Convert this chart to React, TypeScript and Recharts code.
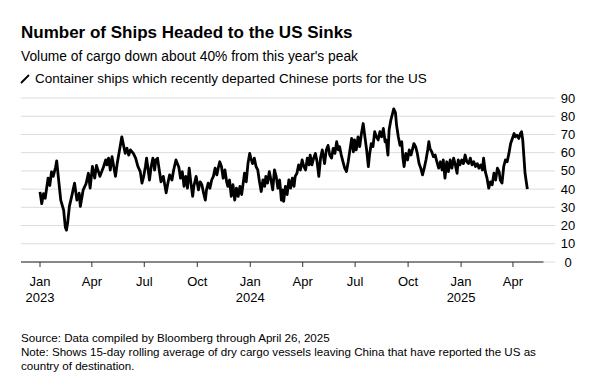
import React from 'react';
import { LineChart, Line, XAxis, YAxis, CartesianGrid, ReferenceLine } from 'recharts';

// days since Jan 1, 2023 and the 15-day rolling count of ships
const days = [
  0, 3, 6, 9, 14, 17, 20, 23, 27, 29, 32, 36, 41, 44, 46, 48, 51, 55, 60, 64,
  68, 70, 75, 80, 84, 87, 91, 95, 98, 104, 110, 114, 116, 119, 122, 125, 128, 131, 134, 137,
  140, 142, 145, 148, 151, 154, 157, 162, 166, 170, 174, 177, 180, 183, 185, 187, 190, 193, 196, 199,
  201, 204, 207, 210, 214, 216, 219, 222, 225, 229, 232, 236, 241, 244, 247, 250, 253, 256, 259, 262,
  265, 267, 271, 275, 278, 281, 284, 287, 289, 292, 295, 298, 301, 304, 307, 310, 312, 315, 318, 321,
  324, 326, 329, 332, 335, 338, 341, 344, 347, 350, 353, 355, 358, 361, 364, 366, 369, 372, 375, 378,
  381, 384, 387, 390, 392, 395, 398, 401, 404, 407, 410, 413, 416, 419, 421, 423, 426, 429, 432, 435,
  438, 441, 443, 446, 449, 452, 455, 458, 461, 464, 467, 469, 472, 475, 478, 481, 484, 487, 490, 494,
  497, 500, 503, 506, 509, 512, 515, 518, 520, 523, 526, 529, 532, 535, 538, 541, 544, 546, 549, 552,
  555, 558, 561, 564, 567, 570, 572, 575, 578, 581, 584, 587, 590, 593, 596, 599, 601, 604, 606, 609,
  612, 614, 617, 619, 622, 625, 628, 630, 632, 635, 638, 641, 644, 647, 649, 652, 655, 658, 661, 664,
  667, 670, 673, 675, 677, 680, 683, 686, 689, 692, 695, 698, 700, 703, 706, 709, 712, 715, 718, 721,
  724, 726, 729, 732, 735, 738, 741, 744, 747, 750, 753, 756, 759, 762, 765, 768, 770, 773, 776, 779,
  782, 785, 788, 791, 794, 797, 799, 802, 805, 808, 811, 814, 817, 820, 823, 825, 828, 831, 834, 836,
  838, 840, 842, 846,
];

const ships = [
  38.5, 32, 37.5, 35, 46, 42, 49.5, 47, 52, 55.5, 46, 34, 28.5, 19, 17.5, 21.5, 30.5, 36, 43.3, 34,
  37.8, 30.5, 39.6, 43, 48.7, 40.5, 52.4, 46, 53, 47, 52, 56, 53.3, 57, 50.5, 57.8, 52.4, 47, 54, 59.6,
  65, 68.7, 64, 59.6, 62.4, 58.7, 61.5, 59.6, 57, 52.4, 49.6, 43.3, 47, 52.4, 57, 52.4, 45, 52.4, 57, 50.5,
  56, 57, 50.5, 44, 47, 43.3, 38, 43.3, 47.8, 45, 50.5, 56, 52, 46, 49.6, 41.5, 47, 40.5, 51.5, 43.3,
  36, 41.5, 47, 39.6, 44, 42.4, 37.8, 34, 39.6, 43.3, 40.5, 45, 47, 51.5, 47.8, 52.4, 55, 52.4, 46, 50.5,
  44, 41.5, 45, 36, 42.4, 34, 40.5, 36, 41.5, 37, 44, 48.7, 44, 54, 59.6, 57, 54, 57, 52.4, 50.5,
  44, 38.7, 45, 41.5, 47, 43.3, 49.6, 45, 39.6, 50.5, 47, 40.5, 45, 34, 39.6, 33.3, 41.5, 37, 45, 40.5,
  46, 41.5, 47, 48.7, 53.3, 50.5, 56, 52.4, 50.5, 57, 53.3, 58.7, 53.3, 57, 59.6, 55, 47, 57, 61.5, 54,
  61.5, 64, 58.7, 57, 62.4, 59.6, 66, 61.5, 63.3, 58.7, 55, 51.5, 49.6, 55, 61.5, 67.8, 60.5, 67, 61.5, 68.7,
  63.3, 70.5, 76, 68.7, 61.5, 52.4, 58.7, 65, 63.3, 71.5, 68.7, 67, 71.5, 68.7, 73.3, 66, 67, 58.7, 72.4, 77.8,
  81.5, 84, 82, 75, 68.7, 64, 66, 57, 52.4, 59.6, 56, 61.5, 58.7, 62.4, 65, 63.3, 59.6, 54, 51.5, 47.8,
  51.5, 56, 61.5, 66, 62.4, 60.5, 57.8, 58.7, 55, 51.5, 55, 50.5, 56, 46, 55, 49.6, 56, 51.5, 57, 53.3,
  48.7, 56, 53.3, 56, 54, 58.7, 55, 54, 57, 53.3, 55, 52.4, 54, 51.5, 53.3, 50.5, 57, 49.6, 46, 40.5,
  44, 42.4, 48.7, 45, 51.5, 49.6, 45, 43.3, 52.4, 56, 55, 59.6, 65, 67.8, 70.5, 68.7, 69.6, 67.8, 70.5, 71.5,
  67, 57.8, 48.7, 40,
];

const tickDays = [0, 90, 181, 273, 365, 456, 547, 639, 731, 821];
const tickMonths = ['Jan', 'Apr', 'Jul', 'Oct', 'Jan', 'Apr', 'Jul', 'Oct', 'Jan', 'Apr'];
const tickYears = ['2023', '', '', '', '2024', '', '', '', '2025', ''];
const valueTicks = [0, 10, 20, 30, 40, 50, 60, 70, 80, 90];

const data = days.map((day, i) => ({ day, ships: ships[i] }));

const font = '"Liberation Sans", Arial, Helvetica, sans-serif';

const MonthTick = (props: any) => {
  const { x, y, payload } = props;
  const i = tickDays.indexOf(payload.value);
  return (
    <g>
      <text x={x} y={y + 19} textAnchor="middle" fontSize={13} fill="#000" fontFamily={font}>
        {tickMonths[i]}
      </text>
      {tickYears[i] && (
        <text x={x} y={y + 35} textAnchor="middle" fontSize={13} fill="#000" fontFamily={font}>
          {tickYears[i]}
        </text>
      )}
    </g>
  );
};

const ValueTick = (props: any) => {
  const { x, y, payload } = props;
  return (
    <text x={x} y={y + 4.5} textAnchor="middle" fontSize={13} fill="#000" fontFamily={font}>
      {payload.value}
    </text>
  );
};

export default function App() {
  return (
    <div
      style={{
        position: 'absolute',
        left: 0,
        top: 0,
        width: 603,
        height: 388,
        background: '#fff',
        fontFamily: font,
        color: '#000',
        overflow: 'hidden',
      }}
    >
      <div style={{ position: 'absolute', left: 21, top: 24, fontSize: 17, lineHeight: '18px', fontWeight: 700 }}>
        Number of Ships Headed to the US Sinks
      </div>
      <div style={{ position: 'absolute', left: 21, top: 50, fontSize: 13.8, lineHeight: '14px' }}>
        Volume of cargo down about 40% from this year's peak
      </div>
      <svg style={{ position: 'absolute', left: 20, top: 73 }} width={11} height={11}>
        <line x1={1.5} y1={9.5} x2={8.5} y2={2.5} stroke="#000" strokeWidth={1.8} strokeLinecap="round" />
      </svg>
      <div style={{ position: 'absolute', left: 35, top: 72, fontSize: 13.5, lineHeight: '13px' }}>
        Container ships which recently departed Chinese ports for the US
      </div>

      <div style={{ position: 'absolute', left: 0, top: 0 }}>
        <LineChart width={603} height={340} data={data} margin={{ top: 98, right: 8, bottom: 0, left: 21 }}>
          <CartesianGrid vertical={false} stroke="#dcdcdc" strokeWidth={1} />
          <XAxis
            dataKey="day"
            type="number"
            domain={[-33, 894]}
            ticks={tickDays}
            interval={0}
            height={78}
            axisLine={false}
            tickLine={{ stroke: '#333' }}
            tickSize={5}
            tickMargin={0}
            tick={<MonthTick />}
          />
          <YAxis
            orientation="right"
            type="number"
            domain={[0, 90]}
            ticks={valueTicks}
            interval={0}
            width={40}
            axisLine={false}
            tickLine={false}
            tickSize={0}
            tickMargin={13}
            tick={<ValueTick />}
          />
          <ReferenceLine
            segment={[
              { x: -33, y: 0 },
              { x: 874, y: 0 },
            ]}
            stroke="#222"
            strokeWidth={1.2}
          />
          <Line
            type="linear"
            dataKey="ships"
            stroke="#000"
            strokeWidth={2.8}
            strokeLinejoin="round"
            dot={false}
            isAnimationActive={false}
          />
        </LineChart>
      </div>

      <div style={{ position: 'absolute', left: 21, top: 331, width: 535, fontSize: 11.6, lineHeight: '14px' }}>
        <div>Source: Data compiled by Bloomberg through April 26, 2025</div>
        <div>
          Note: Shows 15-day rolling average of dry cargo vessels leaving China that have reported the US as country
          of destination.
        </div>
      </div>
    </div>
  );
}
